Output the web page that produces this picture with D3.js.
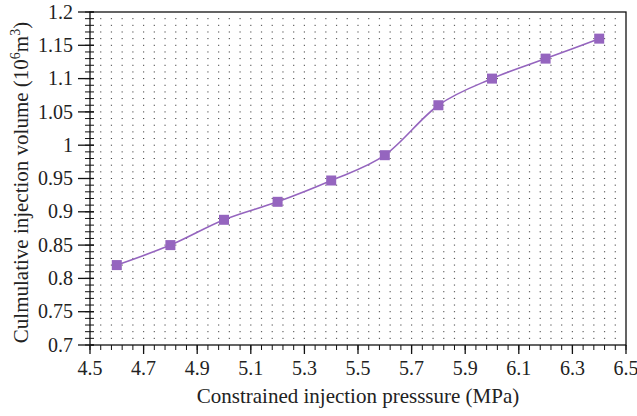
<!DOCTYPE html>
<html>
<head>
<meta charset="utf-8">
<script src="https://cdn.jsdelivr.net/npm/d3@7"></script>
<style>
  body { margin: 0; background: #fff; }
</style>
</head>
<body>
<svg id="chart" width="637" height="416"></svg>
<script>
// data
const pressure = [4.6, 4.8, 5.0, 5.2, 5.4, 5.6, 5.8, 6.0, 6.2, 6.4]
const volume = [0.82, 0.85, 0.888, 0.915, 0.947, 0.985, 1.06, 1.1, 1.13, 1.16]
const xTicks = [4.5, 4.7, 4.9, 5.1, 5.3, 5.5, 5.7, 5.9, 6.1, 6.3, 6.5]
const yTicks = [0.7, 0.75, 0.8, 0.85, 0.9, 0.95, 1, 1.05, 1.1, 1.15, 1.2]

const margin = { top: 12, right: 11, bottom: 71, left: 90 }
const width = 637 - margin.left - margin.right
const height = 416 - margin.top - margin.bottom
const purple = '#9565bf'
const serif = "'Liberation Serif', monospace"

const svg = d3.select('#chart')
const g = svg.append('g').attr('transform', `translate(${margin.left},${margin.top})`)

const x = d3.scaleLinear().domain([4.5, 6.5]).range([0, width])
const y = d3.scaleLinear().domain([0.7, 1.2]).range([height, 0])

// minor steps: 0.04 on x, 0.01 on y
const xMinor = d3.range(0, 51).map(i => 4.5 + i * 0.04)
const yMinor = d3.range(0, 51).map(i => 0.7 + i * 0.01)

// dotted grid, one small dot per intersection
let dots = []
xMinor.slice(1, -1).forEach(xv => {
  yMinor.slice(1, -1).forEach(yv => dots.push([xv, yv]))
})
g.append('g')
  .selectAll('rect')
  .data(dots)
  .enter()
  .append('rect')
  .attr('x', d => x(d[0]) - 0.6)
  .attr('y', d => y(d[1]) - 0.5)
  .attr('width', 1.2)
  .attr('height', 1)
  .attr('fill', '#444')

// frame
g.append('rect')
  .attr('width', width)
  .attr('height', height)
  .attr('fill', 'none')
  .attr('stroke', '#111')
  .attr('stroke-width', 1.3)

// x axis
const xAxis = g.append('g').attr('transform', `translate(0,${height})`)
xAxis.selectAll('line.minor')
  .data(xMinor)
  .enter()
  .append('line')
  .attr('x1', d => x(d)).attr('x2', d => x(d))
  .attr('y1', 0).attr('y2', 5)
  .attr('stroke', '#111')
xAxis.selectAll('line.major')
  .data(xTicks)
  .enter()
  .append('line')
  .attr('x1', d => x(d)).attr('x2', d => x(d))
  .attr('y1', 0).attr('y2', 9)
  .attr('stroke', '#111')
  .attr('stroke-width', 1.3)
xAxis.selectAll('text')
  .data(xTicks)
  .enter()
  .append('text')
  .attr('x', d => x(d))
  .attr('y', 30)
  .attr('text-anchor', 'middle')
  .style('font-family', serif)
  .style('font-size', '20px')
  .attr('fill', '#222')
  .text(d => d3.format('.1f')(d))

// y axis
const yAxis = g.append('g')
yAxis.selectAll('line.minor')
  .data(yMinor)
  .enter()
  .append('line')
  .attr('x1', -5).attr('x2', 4)
  .attr('y1', d => y(d)).attr('y2', d => y(d))
  .attr('stroke', '#111')
yAxis.selectAll('line.major')
  .data(yTicks)
  .enter()
  .append('line')
  .attr('x1', -12).attr('x2', 4)
  .attr('y1', d => y(d)).attr('y2', d => y(d))
  .attr('stroke', '#111')
  .attr('stroke-width', 1.3)
yAxis.selectAll('text')
  .data(yTicks)
  .enter()
  .append('text')
  .attr('x', -17)
  .attr('y', d => y(d))
  .attr('dy', '0.33em')
  .attr('text-anchor', 'end')
  .style('font-family', serif)
  .style('font-size', '20px')
  .attr('fill', '#222')
  .text(d => d)

// series
const line = d3.line()
  .x(d => x(d[0]))
  .y(d => y(d[1]))
  .curve(d3.curveMonotoneX)
const points = pressure.map((p, i) => [p, volume[i]])

g.append('path')
  .datum(points)
  .attr('d', line)
  .attr('fill', 'none')
  .attr('stroke', purple)
  .attr('stroke-width', 1.6)

g.selectAll('rect.marker')
  .data(points)
  .enter()
  .append('rect')
  .attr('class', 'marker')
  .attr('x', d => x(d[0]) - 5)
  .attr('y', d => y(d[1]) - 5)
  .attr('width', 10)
  .attr('height', 10)
  .attr('fill', purple)

// axis titles
svg.append('text')
  .attr('x', margin.left + width / 2)
  .attr('y', 403)
  .attr('text-anchor', 'middle')
  .style('font-family', serif)
  .style('font-size', '21px')
  .attr('fill', '#222')
  .text('Constrained injection presssure (MPa)')

const yTitle = svg.append('text')
  .attr('transform', `translate(28,${margin.top + height / 2 + 4}) rotate(-90)`)
  .attr('text-anchor', 'middle')
  .style('font-family', serif)
  .style('font-size', '21px')
  .attr('fill', '#222')
yTitle.append('tspan').text('Culmulative injection volume (10')
yTitle.append('tspan').style('font-size', '14px').attr('dy', -8).text('6')
yTitle.append('tspan').attr('dy', 8).text('m')
yTitle.append('tspan').style('font-size', '14px').attr('dy', -8).text('3')
yTitle.append('tspan').attr('dy', 8).text(')')
</script>
</body>
</html>
